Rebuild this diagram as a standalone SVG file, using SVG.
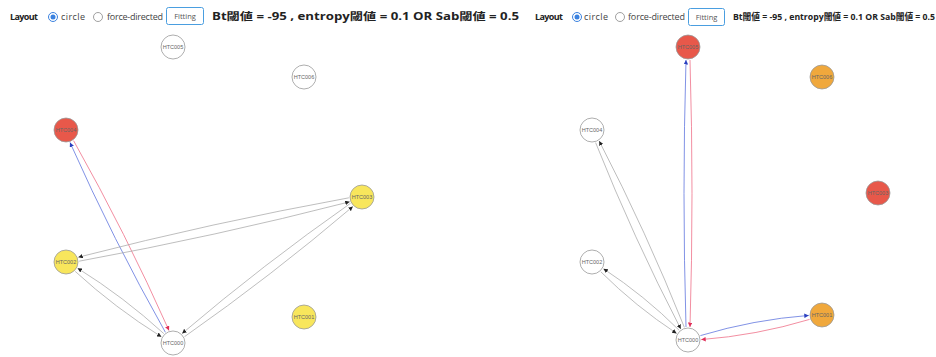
<svg xmlns="http://www.w3.org/2000/svg" width="936" height="357" viewBox="0 0 936 357">
<style>
.ui{font-family:"Open Sans","Liberation Sans",sans-serif;fill:#444;font-size:9px}
.b{font-weight:bold;fill:#222}
.cjk{font-family:"Open Sans","Noto Sans CJK JP",sans-serif;font-weight:bold;fill:#222}
.btn{fill:#fff;stroke:#4a9ee0;stroke-width:1;rx:2}
.btnt{font-family:"Open Sans","Liberation Sans",sans-serif;font-size:7.5px;fill:#555;text-anchor:middle}
.node circle{stroke:#999;stroke-width:0.8}
.w{fill:#fff}
.r{fill:#e8584a;stroke:#c84a40}
.y{fill:#f8e65c}
.o{fill:#f0a83c}
.lbl{font-family:"Liberation Sans",sans-serif;font-size:5.5px;fill:#666;text-anchor:middle;dominant-baseline:central}
.g{fill:none;stroke:#a8a8a8;stroke-width:0.75;marker-end:url(#ag)}
.bl{fill:none;stroke:#6a7ee0;stroke-width:0.85;marker-end:url(#ab)}
.rd{fill:none;stroke:#f07a90;stroke-width:0.85;marker-end:url(#ar)}
</style>
<defs>
<marker id="ag" viewBox="0 0 6 6" refX="6" refY="3" markerWidth="4.5" markerHeight="4.5" markerUnits="userSpaceOnUse" orient="auto"><path d="M0,0L6,3L0,6z" fill="#222"/></marker>
<marker id="ab" viewBox="0 0 6 6" refX="6" refY="3" markerWidth="4.5" markerHeight="4.5" markerUnits="userSpaceOnUse" orient="auto"><path d="M0,0L6,3L0,6z" fill="#2a3fc0"/></marker>
<marker id="ar" viewBox="0 0 6 6" refX="6" refY="3" markerWidth="4.5" markerHeight="4.5" markerUnits="userSpaceOnUse" orient="auto"><path d="M0,0L6,3L0,6z" fill="#e0305a"/></marker>
</defs>
<rect width="936" height="357" fill="#fff"/>

<g id="header-left">
<text class="ui b" x="10" y="20" textLength="28" font-size="9.5">Layout</text>
<circle cx="53" cy="17" r="4.5" fill="#fff" stroke="#3b82e0" stroke-width="1"/>
<circle cx="53" cy="17" r="2.5" fill="#3b82e0"/>
<text class="ui" x="61" y="20" textLength="24">circle</text>
<circle cx="98" cy="17" r="4.5" fill="#fff" stroke="#888" stroke-width="0.8"/>
<text class="ui" x="107" y="20" textLength="56">force-directed</text>
<rect class="btn" x="166.5" y="7.5" width="37" height="17"/>
<text class="btnt" x="185" y="19">Fitting</text>
<text class="cjk" x="212" y="20" font-size="10" textLength="307" lengthAdjust="spacingAndGlyphs">Bt閾値 = -95 , entropy閾値 = 0.1 OR Sab閾値 = 0.5</text>
</g>

<g id="header-right">
<text class="ui b" x="535" y="20" textLength="28" font-size="9.5">Layout</text>
<circle cx="577" cy="17" r="4.5" fill="#fff" stroke="#3b82e0" stroke-width="1"/>
<circle cx="577" cy="17" r="2.5" fill="#3b82e0"/>
<text class="ui" x="584" y="20" textLength="24">circle</text>
<circle cx="620" cy="17" r="4.5" fill="#fff" stroke="#888" stroke-width="0.8"/>
<text class="ui" x="628" y="20" textLength="57">force-directed</text>
<rect class="btn" x="688.5" y="8.5" width="36" height="17"/>
<text class="btnt" x="706.5" y="19.5">Fitting</text>
<text class="cjk" x="733" y="20" font-size="8.8" textLength="202" lengthAdjust="spacingAndGlyphs">Bt閾値 = -95 , entropy閾値 = 0.1 OR Sab閾値 = 0.5</text>
</g>

<g id="connectors">
<path class="bl" d="M165.4,332.3 Q113.2,239.6 70.0,142.5"/>
<path class="rd" d="M73.6,140.7 Q125.8,233.4 169.0,330.5"/>
<path class="g" d="M79.1,261.2 Q215.5,236.3 349.7,201.8"/>
<path class="g" d="M348.9,197.8 Q212.5,222.7 78.3,257.2"/>
<path class="g" d="M75.2,271.4 Q115.3,308.1 161.4,336.8"/>
<path class="g" d="M163.8,333.6 Q123.7,296.9 77.6,268.2"/>
<path class="g" d="M184.5,336.7 Q271.8,275.5 352.9,206.5"/>
<path class="g" d="M350.5,203.3 Q263.2,264.5 182.1,333.5"/>

<path class="bl" d="M686,327 Q682,193.5 686,60"/>
<path class="rd" d="M690,60 Q694,193.5 690,327"/>
<path class="bl" d="M700.4,335.6 Q753.5,319.6 808.8,315.4"/>
<path class="rd" d="M809.6,319.4 Q756.5,335.4 701.2,339.6"/>
<path class="g" d="M684.4,327.4 Q646.4,232.1 599.2,141.0"/>
<path class="g" d="M595.6,142.6 Q633.6,237.9 680.8,329.0"/>
<path class="g" d="M679.2,330.3 Q644.4,295.6 603.4,268.7"/>
<path class="g" d="M600.8,271.8 Q635.6,306.4 676.6,333.4"/>
</g>

<g id="L-HTC005" class="node"><circle class="w" cx="173" cy="47" r="12"/><text class="lbl" x="173" y="47">HTC005</text></g>
<g id="L-HTC006" class="node"><circle class="w" cx="304" cy="77" r="12"/><text class="lbl" x="304" y="77">HTC006</text></g>
<g id="L-HTC004" class="node"><circle class="r" cx="66" cy="130" r="12"/><text class="lbl" x="66" y="130">HTC004</text></g>
<g id="L-HTC003" class="node"><circle class="y" cx="362" cy="197" r="12"/><text class="lbl" x="362" y="197">HTC003</text></g>
<g id="L-HTC002" class="node"><circle class="y" cx="66" cy="262" r="12"/><text class="lbl" x="66" y="262">HTC002</text></g>
<g id="L-HTC001" class="node"><circle class="y" cx="304" cy="317" r="12"/><text class="lbl" x="304" y="317">HTC001</text></g>
<g id="L-HTC000" class="node"><circle class="w" cx="173" cy="343" r="12"/><text class="lbl" x="173" y="343">HTC000</text></g>

<g id="R-HTC005" class="node"><circle class="r" cx="688" cy="47" r="12"/><text class="lbl" x="688" y="47">HTC005</text></g>
<g id="R-HTC006" class="node"><circle class="o" cx="822" cy="77" r="12"/><text class="lbl" x="822" y="77">HTC006</text></g>
<g id="R-HTC004" class="node"><circle class="w" cx="592" cy="130" r="12"/><text class="lbl" x="592" y="130">HTC004</text></g>
<g id="R-HTC003" class="node"><circle class="r" cx="878" cy="193" r="12"/><text class="lbl" x="878" y="193">HTC003</text></g>
<g id="R-HTC002" class="node"><circle class="w" cx="592" cy="262" r="12"/><text class="lbl" x="592" y="262">HTC002</text></g>
<g id="R-HTC001" class="node"><circle class="o" cx="822" cy="315" r="12"/><text class="lbl" x="822" y="315">HTC001</text></g>
<g id="R-HTC000" class="node"><circle class="w" cx="688" cy="340" r="12"/><text class="lbl" x="688" y="340">HTC000</text></g>
</svg>
